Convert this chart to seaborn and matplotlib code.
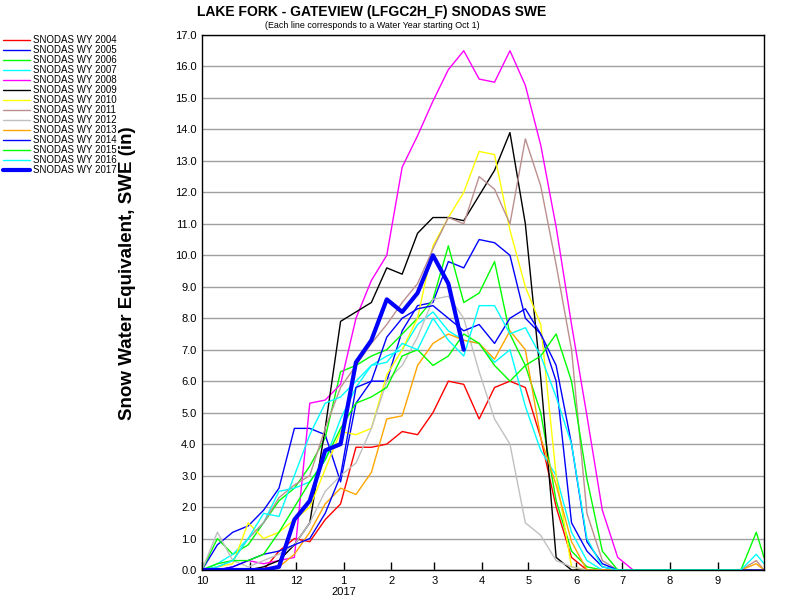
import numpy as np
import pandas as pd
import seaborn as sns
import matplotlib
matplotlib.use("Agg")
import matplotlib.pyplot as plt

# day of water year (0 = Oct 1)
days = [0, 10, 20, 30, 40, 50, 60, 70, 80, 90, 100, 110, 120, 130, 140, 150, 160, 170,
        180, 190, 200, 210, 220, 230, 240, 250, 260, 270, 280, 290, 300, 310, 320, 330,
        340, 350, 360, 365]

# SWE (in), one list per water year
wy2004 = [0, 0, 0, 0, 0, 0.6, 1.0, 0.9, 1.6, 2.1, 3.9, 3.9, 4.0, 4.4, 4.3, 5.0, 6.0, 5.9,
          4.8, 5.8, 6.0, 5.8, 4.2, 2.0, 0.4, 0, 0, 0, 0, 0, 0, 0, 0, 0, 0, 0, 0, 0]
wy2005 = [0, 0.8, 1.2, 1.4, 1.9, 2.6, 4.5, 4.5, 4.3, 2.8, 5.3, 6.0, 6.0, 7.6, 8.4, 8.5, 9.8, 9.6,
          10.5, 10.4, 10.0, 8.0, 7.5, 6.0, 1.5, 0.6, 0.1, 0, 0, 0, 0, 0, 0, 0, 0, 0, 0, 0]
wy2006 = [0, 1.0, 0.5, 0.8, 1.5, 2.2, 2.6, 3.3, 4.2, 6.3, 6.5, 6.8, 7.0, 7.5, 8.0, 8.6, 10.3, 8.5,
          8.8, 9.8, 7.5, 6.5, 5.0, 2.2, 0.6, 0.1, 0, 0, 0, 0, 0, 0, 0, 0, 0, 0, 0, 0]
wy2007 = [0, 0.2, 0.5, 1.0, 1.5, 2.5, 2.6, 2.8, 3.5, 4.8, 5.8, 6.5, 6.8, 7.0, 7.8, 8.2, 7.6, 7.3,
          7.2, 6.6, 7.0, 5.2, 3.8, 3.0, 1.2, 0.3, 0, 0, 0, 0, 0, 0, 0, 0, 0, 0, 0, 0]
wy2008 = [0, 0, 0.1, 0.3, 0.2, 0.3, 0.4, 5.3, 5.4, 5.9, 8.0, 9.2, 10.0, 12.8, 13.8, 14.9, 15.9, 16.5,
          15.6, 15.5, 16.5, 15.4, 13.5, 10.9, 7.8, 4.9, 1.9, 0.4, 0, 0, 0, 0, 0, 0, 0, 0, 0, 0]
wy2009 = [0, 0, 0, 0, 0.1, 0.3, 0.8, 1.5, 4.5, 7.9, 8.2, 8.5, 9.6, 9.4, 10.7, 11.2, 11.2, 11.1,
          11.9, 12.7, 13.9, 11.0, 6.1, 0.4, 0, 0, 0, 0, 0, 0, 0, 0, 0, 0, 0, 0, 0, 0]
wy2010 = [0, 0.1, 0.2, 1.5, 1.0, 1.2, 1.6, 2.0, 3.2, 4.4, 4.3, 4.5, 6.2, 7.0, 8.0, 10.3, 11.2, 12.0,
          13.3, 13.2, 10.8, 9.0, 7.8, 3.0, 0.1, 0, 0, 0, 0, 0, 0, 0, 0, 0, 0, 0, 0, 0]
wy2011 = [0, 0.1, 0.3, 1.0, 1.5, 2.3, 2.7, 3.0, 4.5, 5.8, 6.5, 7.2, 7.8, 8.5, 9.1, 10.2, 11.2, 11.0,
          12.5, 12.1, 11.0, 13.7, 12.2, 9.7, 7.0, 1.8, 0.3, 0, 0, 0, 0, 0, 0, 0, 0, 0, 0.3, 0]
wy2012 = [0, 1.2, 0.3, 0.1, 0.3, 0.5, 0.8, 1.5, 2.5, 3.0, 3.4, 4.5, 6.0, 6.5, 7.4, 8.6, 8.7, 8.0,
          6.3, 4.8, 4.0, 1.5, 1.1, 0.3, 0.1, 0, 0, 0, 0, 0, 0, 0, 0, 0, 0, 0, 0, 0]
wy2013 = [0, 0, 0, 0, 0, 0.1, 0.5, 1.2, 2.1, 2.6, 2.4, 3.1, 4.8, 4.9, 6.5, 7.2, 7.5, 7.3,
          7.2, 6.7, 7.6, 7.0, 4.2, 2.7, 0.9, 0, 0, 0, 0, 0, 0, 0, 0, 0, 0, 0, 0.2, 0]
wy2014 = [0, 0, 0.1, 0.3, 0.5, 0.6, 0.8, 1.0, 1.8, 3.0, 5.8, 6.0, 7.4, 8.0, 8.3, 8.4, 8.0, 7.6,
          7.8, 7.2, 8.0, 8.3, 7.5, 6.5, 4.0, 0.9, 0.2, 0, 0, 0, 0, 0, 0, 0, 0, 0, 0, 0]
wy2015 = [0, 0.2, 0.3, 0.3, 0.5, 1.2, 2.0, 2.8, 3.5, 4.5, 5.3, 5.5, 5.8, 6.8, 7.0, 6.5, 6.8, 7.5,
          7.2, 6.5, 6.0, 6.5, 6.8, 7.5, 6.0, 2.9, 0.6, 0, 0, 0, 0, 0, 0, 0, 0, 0, 1.2, 0.4]
wy2016 = [0, 0.1, 0.3, 1.0, 1.8, 1.7, 3.0, 4.3, 5.3, 5.5, 6.0, 6.5, 6.6, 7.2, 7.0, 8.0, 7.3, 6.8,
          8.4, 8.4, 7.5, 7.7, 6.8, 5.5, 4.0, 1.0, 0.1, 0, 0, 0, 0, 0, 0, 0, 0, 0, 0.5, 0.2]
wy2017 = [0, 0, 0, 0, 0, 0.1, 1.6, 2.2, 3.8, 4.0, 6.6, 7.3, 8.6, 8.2, 8.8, 10.0, 9.1, 7.0]

labels = ["SNODAS WY 2004", "SNODAS WY 2005", "SNODAS WY 2006", "SNODAS WY 2007",
          "SNODAS WY 2008", "SNODAS WY 2009", "SNODAS WY 2010", "SNODAS WY 2011",
          "SNODAS WY 2012", "SNODAS WY 2013", "SNODAS WY 2014", "SNODAS WY 2015",
          "SNODAS WY 2016", "SNODAS WY 2017"]
series = [wy2004, wy2005, wy2006, wy2007, wy2008, wy2009, wy2010, wy2011,
          wy2012, wy2013, wy2014, wy2015, wy2016, wy2017]
colors = ["#ff0000", "#0000ff", "#00ff00", "#00ffff", "#ff00ff", "#000000", "#ffff00",
          "#bc8f8f", "#c0c0c0", "#ffa500", "#0000ff", "#00ff00", "#00ffff", "#0000ff"]

month_days = [0, 31, 61, 92, 123, 151, 182, 212, 243, 273, 304, 335]
month_labels = ["10", "11", "12", "1\n2017", "2", "3", "4", "5", "6", "7", "8", "9"]

rows = []
for lab, vals in zip(labels, series):
    for d, v in zip(days, vals):
        rows.append((d, v, lab))
df = pd.DataFrame(rows, columns=["day", "swe", "series"])

sns.set_style("white")
plt.rcParams["font.family"] = ["Liberation Sans", "DejaVu Sans"]
plt.rcParams["text.color"] = "black"
plt.rcParams["xtick.color"] = "black"
plt.rcParams["ytick.color"] = "black"
plt.rcParams["axes.labelcolor"] = "black"

fig = plt.figure(figsize=(8, 6), dpi=100)
ax = fig.add_axes([202 / 800, 30 / 600, 562 / 800, 535 / 600])

palette = dict(zip(labels, colors))
sizes = {lab: (3.0 if lab.endswith("2017") else 1.0) for lab in labels}
sns.lineplot(data=df, x="day", y="swe", hue="series", size="series", palette=palette,
             sizes=sizes, estimator=None, sort=False, ax=ax, legend=True)

handles, labs = ax.get_legend_handles_labels()
ax.get_legend().remove()
fig.legend(handles, labs, loc="upper left", bbox_to_anchor=(3 / 800, 1 - 35 / 600),
           frameon=False, fontsize=7, handlelength=2.8, handletextpad=0.3,
           labelspacing=0.0, borderpad=0, borderaxespad=0)

ax.set_xlim(0, 365)
ax.set_ylim(0, 17)
ax.set_yticks(range(18))
ax.set_yticklabels([f"{v:.1f}" for v in range(18)])
ax.set_xticks(month_days)
ax.set_xticklabels(month_labels)
ax.yaxis.grid(True, color="#a0a0a0", lw=1)
ax.xaxis.grid(False)
ax.set_axisbelow(True)
ax.tick_params(axis="y", length=0, pad=4, labelsize=8)
ax.tick_params(axis="x", direction="in", length=6, width=1, pad=4, labelsize=8, bottom=True)
for sp in ax.spines.values():
    sp.set_color("black")
    sp.set_linewidth(1)
    sp.set_zorder(5)
ax.set_xlabel("")
ax.set_ylabel("")

fig.text(372 / 800, 1 - 12 / 600, "LAKE FORK - GATEVIEW (LFGC2H_F) SNODAS SWE",
         ha="center", va="center", fontsize=10, fontweight="bold")
fig.text(372 / 800, 1 - 25 / 600, "(Each line corresponds to a Water Year starting Oct 1)",
         ha="center", va="center", fontsize=6.4)
fig.text(128 / 800, 1 - 273 / 600, "Snow Water Equivalent, SWE (in)", rotation=90,
         ha="center", va="center", fontsize=13.5, fontweight="bold")

fig.savefig("out.png", dpi=100)
